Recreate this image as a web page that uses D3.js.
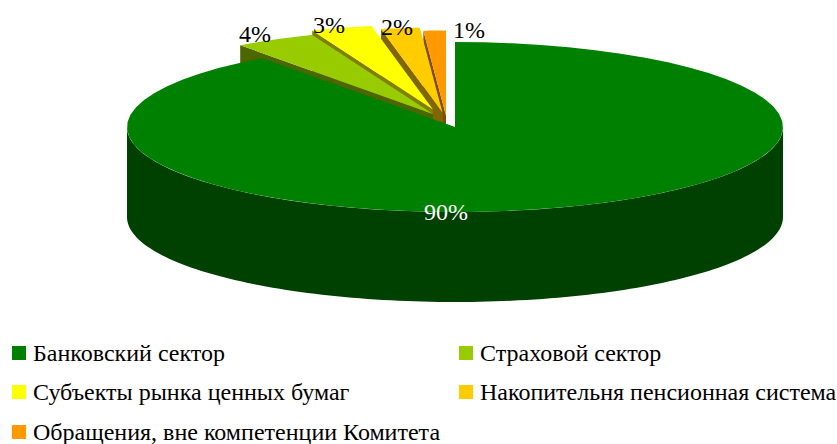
<!DOCTYPE html>
<html><head><meta charset="utf-8">
<script src="https://cdn.jsdelivr.net/npm/d3@7/dist/d3.min.js"></script>
<style>html,body{margin:0;padding:0;background:#fff}svg{display:block}text{font-family:"Liberation Serif",serif}</style>
</head><body><script>
const categories = ["Банковский сектор","Страховой сектор","Субъекты рынка ценных бумаг","Накопительня пенсионная система","Обращения, вне компетенции Комитета"];
const values = [90,4,3,1.9,1.1];
const labels = ["90%","4%","3%","2%","1%"];
const colors = ["#008000","#99cc00","#ffff00","#ffcc00","#ff9900"];
const sideColors = ["#004000","#4d6600","#808000","#806600","#804d00"];

const W=837,H=444,cx=455,cy=127,rx=328,ry=85,depth=90;
const apexOffset=[[0,0],[-22,-13],[-22,-17.5],[-12.5,-14.5],[-9,-11.5]];
const labelPos=[[446,220],[255,42],[329,33],[397,35],[469,38]];
const legendPos=[[12,346],[459,346],[12,385],[459,385],[12,425]];

const svg=d3.select("body").append("svg").attr("width",W).attr("height",H);
const pie=d3.pie().sort(null).value(d=>d)(values);
const rX=d3.scaleLinear().domain([0,1]).range([0,rx]);
const rY=d3.scaleLinear().domain([0,1]).range([0,ry]);
const px=a=>rX(Math.sin(a)), py=a=>-rY(Math.cos(a));
const line=d3.line();

// draw back-to-front: small exploded slices first, main slice last
d3.range(pie.length-1,-1,-1).forEach(i=>{
  const p=pie[i],[ox,oy]=apexOffset[i],ax=cx+ox,ay=cy+oy;
  const rim=d3.range(0,65).map(k=>p.startAngle+(p.endAngle-p.startAngle)*k/64);
  if(i===0){
    // outer wall: only the front half of the main slice
    const front=d3.range(0,129).map(k=>Math.PI/2+Math.PI*k/128);
    const top=front.map(a=>[ax+px(a),ay+py(a)]);
    const bot=top.map(([x,y])=>[x,y+depth]).reverse();
    svg.append("path").attr("d",line(top.concat(bot))+"Z").attr("fill",sideColors[i]);
  } else {
    // radial wall on the start edge
    const a=p.startAngle,ex=ax+px(a),ey=ay+py(a);
    svg.append("path").attr("d",line([[ax,ay],[ex,ey],[ex,ey+depth],[ax,ay+depth]])+"Z").attr("fill",sideColors[i]);
    // apex wall on the end edge, hidden behind the main slice except at the tip
    svg.append("path").attr("d",line([[ax-3,ay],[ax,ay],[ax,ay+depth],[ax-3,ay+depth]])+"Z").attr("fill",sideColors[i]);
  }
  const pts=[[ax,ay]].concat(rim.map(a=>[ax+px(a),ay+py(a)]));
  svg.append("path").attr("d",line(pts)+"Z").attr("fill",colors[i]);
});

svg.selectAll("text.lab").data(labels).join("text").attr("class","lab")
  .attr("x",(d,i)=>labelPos[i][0]).attr("y",(d,i)=>labelPos[i][1])
  .attr("text-anchor","middle").attr("font-size",24)
  .attr("fill",(d,i)=>i===0?"#fff":"#000").text(d=>d);

const lg=svg.selectAll("g.lg").data(categories).join("g").attr("class","lg")
  .attr("transform",(d,i)=>`translate(${legendPos[i][0]},${legendPos[i][1]})`);
lg.append("rect").attr("width",14).attr("height",14).attr("fill",(d,i)=>colors[i]);
lg.append("text").attr("x",21).attr("y",15).attr("font-size",24).attr("fill","#000").text(d=>d);
</script></body></html>
